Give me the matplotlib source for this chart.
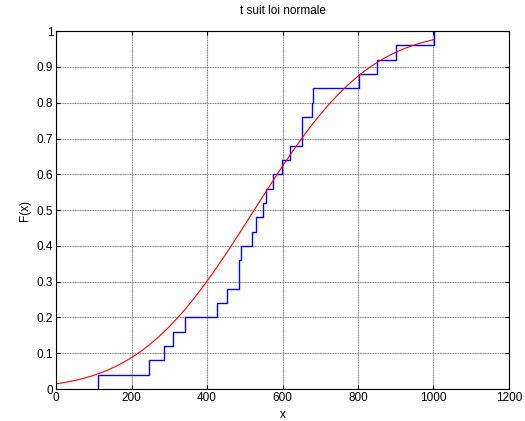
import math
import matplotlib
matplotlib.use('Agg')
import matplotlib.pyplot as plt
import numpy as np

plt.rcParams['font.family'] = ['Liberation Sans', 'DejaVu Sans']

# sorted samples
samples = [110, 247, 287, 310, 342, 426, 453, 485, 485, 491, 520, 529, 549,
           555, 576, 599, 620, 651, 651, 677, 682, 802, 851, 901, 1001]
# fitted normal law
mu = 525
sigma = 240

xs = np.array(samples, dtype=float)
n = len(xs)
F_emp = np.arange(1, n + 1) / n
# build stairs: vertical at each sample
sx = np.repeat(xs, 2)
sy = np.empty(2 * n)
sy[0::2] = np.concatenate([[0], F_emp[:-1]])
sy[1::2] = F_emp

xt = np.linspace(0, 1000, 300)
Ft = np.array([0.5 * (1 + math.erf((v - mu) / (sigma * math.sqrt(2)))) for v in xt])

fig = plt.figure(figsize=(5.25, 4.21), dpi=100)
ax = fig.add_axes([0.1067, 0.076, 0.8628, 0.850])

ax.grid(True, color='0.5', linestyle=(0, (1, 0.5)), linewidth=0.8)
ax.set_axisbelow(True)
ax.plot(sx, sy, color='blue', linewidth=1)
ax.plot(xt, Ft, color='red', linewidth=0.8)

ax.set_xlim(0, 1200)
ax.set_ylim(0, 1)
ax.set_xticks(range(0, 1201, 200))
ax.set_yticks([i / 10 for i in range(11)])
ax.set_yticklabels(['0', '0.1', '0.2', '0.3', '0.4', '0.5', '0.6', '0.7', '0.8', '0.9', '1'])
ax.tick_params(direction='in', top=True, right=True, length=3, labelsize=8.5, pad=2)
for s in ax.spines.values():
    s.set_linewidth(0.8)

ax.set_title('t suit loi normale', fontsize=8.5, pad=12)
ax.set_xlabel('x', fontsize=8.5, labelpad=4)
ax.set_ylabel('F(x)', fontsize=8.5, labelpad=4)

fig.savefig('out.png', dpi=100)
